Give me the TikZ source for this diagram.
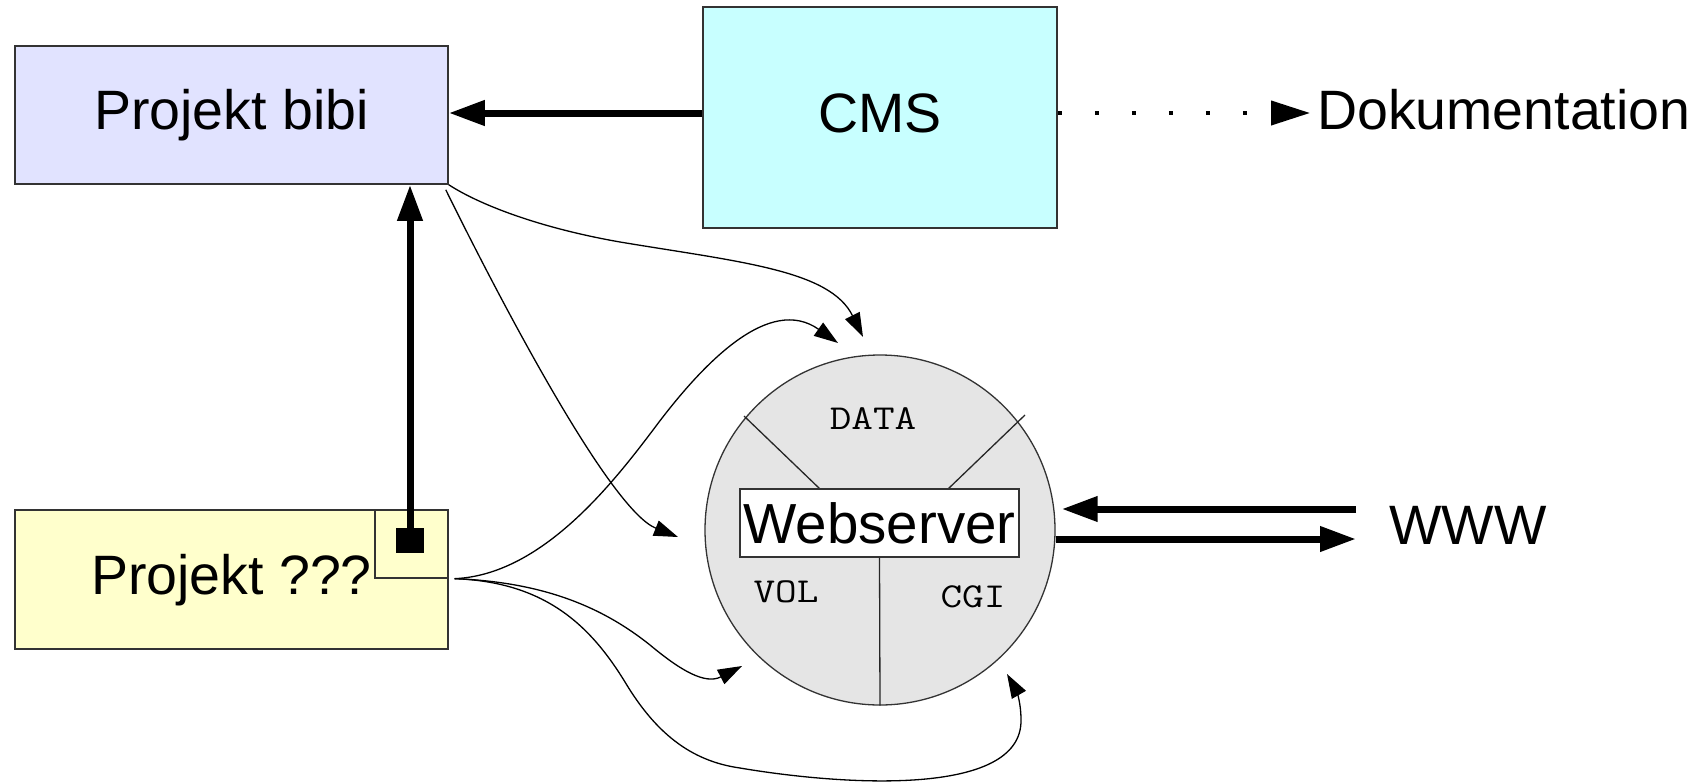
\documentclass[tikz,border=0pt]{standalone}
\usepackage{fontspec}
\setmainfont{Liberation Sans}
\usepackage{graphicx}
\usetikzlibrary{arrows.meta,calc}
\definecolor{bibicol}{HTML}{E1E3FF}
\definecolor{cmscol}{HTML}{C8FFFF}
\definecolor{projcol}{HTML}{FFFFCC}
\definecolor{wscol}{HTML}{E5E5E5}
\definecolor{edgecol}{HTML}{333333}
\begin{document}
\begin{tikzpicture}[x=1pt,y=-1pt,
  box/.style={draw=edgecol,line width=1.5pt,inner sep=0pt},
  big/.style={font=\fontsize{55.5}{60}\selectfont},
  fixdepth/.style={text height=40pt,text depth=11pt},
  mono/.style={font=\ttfamily\fontsize{35}{40}\selectfont,inner sep=0pt},
  thickarrow/.style={line width=7pt,-{Triangle[length=36pt,width=24pt]}},
  thinarrow/.style={draw=black,line width=1.3pt,-{Triangle[length=24pt,width=16pt]}},
  dotline/.style={line width=4pt,dash pattern=on 4pt off 33pt,-{Triangle[length=39pt,width=24pt]}},
  divider/.style={draw=black!85,line width=1.3pt},
]
\useasboundingbox (0,0) rectangle (1704,782);

% boxes
\node[box,fill=bibicol,minimum width=433pt,minimum height=138pt,big,fixdepth] (bibi) at (231.5,115) {Projekt bibi};
\node[box,fill=cmscol,minimum width=354pt,minimum height=221pt,big,fixdepth] (cms) at (880,117.5) {CMS};
\node[box,fill=projcol,minimum width=433pt,minimum height=139pt,big,fixdepth] (proj) at (231.5,579.5) {Projekt ???};
\node[box,line width=1.3pt,minimum width=73pt,minimum height=68pt] (sub) at (411.5,544) {};
\node[fill=black,minimum width=28pt,minimum height=25pt,inner sep=0pt] (sq) at (410,540.5) {};

% webserver
\node[circle,draw=edgecol,line width=1.3pt,fill=wscol,minimum size=350pt,inner sep=0pt] (ws) at (880,530) {};
\draw[divider] (744,416) -- ($(879.5,489)+(-59.5,0)$);
\draw[divider] (1025,415) -- ($(879.5,489)+(68.5,0)$);
\node[box,fill=white,line width=1.3pt,minimum width=279pt,minimum height=68pt,font=\fontsize{56.5}{60}\selectfont] (wsbox) at (879.5,523) {Webserver};
\draw[divider] (wsbox.south) -- (ws.south);
\node[mono] (data) at (873,419) {\scalebox{1.2}[1]{DATA}};
\node[mono] (vol) at (786,592) {\scalebox{1.2}[1]{VOL}};
\node[mono] (cgi) at (973,597) {\scalebox{1.2}[1]{CGI}};

% texts
\node[big,anchor=west,inner sep=0pt] (doc) at (1317,110) {Dokumentation};
\node[big,anchor=west,inner sep=0pt] (www) at (1389,525) {WWW};

% thick connectors
\coordinate (ly) at (0,113);
\draw[thickarrow] (cms.west |- ly) -- (bibi.east |- ly);
\draw[dotline] (cms.east |- ly) -- ($(doc.west |- ly)+(-7,0)$);
\draw[thickarrow] (sq.center) -- (sq.center |- bibi.south);
\coordinate (wt) at ([shift={(-33pt,16pt)}]www.west);
\coordinate (wb) at ([shift={(-33pt,-14pt)}]www.west);
\draw[thickarrow] (wt) -- ($(wt -| ws.east)+(6,0)$);
\draw[thickarrow] (wb -| ws.east) -- (wb);

% thin curved connectors
\coordinate (b1) at (bibi.south east);
\coordinate (b2) at ([shift={(-3pt,-5pt)}]bibi.south east);
\coordinate (po) at ([xshift=6pt]sub.south east);
\coordinate (e1) at (863,337);
\coordinate (e2) at (678,537);
\coordinate (e3) at (838,343);
\coordinate (e4) at (742,666);
\coordinate (e5) at (1007,674);

\draw[thinarrow] (b1) .. controls (480,205) and (540,228) .. (620,242)
  .. controls (740,262) and (830,270) .. (e1);
\draw[thinarrow] (b2) .. controls (500,300) and (610,510) .. (e2);
\draw[thinarrow] (po) .. controls (540,575) and (610,487) .. (653,430)
  .. controls (705,360) and (770,295) .. (e3);
\draw[thinarrow] (po) .. controls (540,582) and (600,605) .. (650,645)
  .. controls (680,670) and (705,685) .. (e4);
\draw[thinarrow] (po) .. controls (545,582) and (590,625) .. (625,682)
  .. controls (655,732) and (690,761) .. (740,768)
  .. controls (840,785) and (1022,798) .. (1021,720)
  .. controls (1021,700) and (1015,688) .. (e5);
\end{tikzpicture}
\end{document}
